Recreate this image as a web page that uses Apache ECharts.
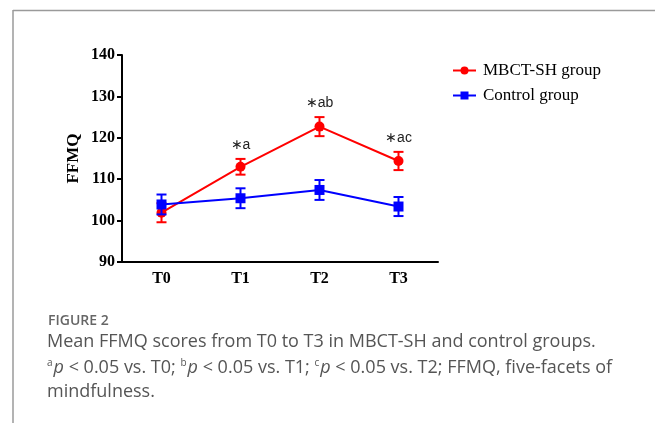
<!DOCTYPE html>
<html>
<head>
<meta charset="utf-8">
<script src="https://cdn.jsdelivr.net/npm/echarts@6/dist/echarts.min.js"></script>
<style>
html,body{margin:0;padding:0;background:#fff;}
#chart{width:655px;height:423px;}
</style>
</head>
<body>
<div id="chart"></div>
<script>
var categories = ['T0', 'T1', 'T2', 'T3'];
var mbctMean = [101.9, 113.0, 122.7, 114.4];
var mbctErr = [2.3, 1.9, 2.3, 2.2];
var controlMean = [103.9, 105.4, 107.4, 103.4];
var controlErr = [2.4, 2.4, 2.4, 2.3];
var annotations = ['', '\u2217a', '\u2217ab', '\u2217ac'];
var yTicks = [90, 100, 110, 120, 130, 140];

var RED = '#ff0000';
var BLUE = '#0000ff';
var serif = '"Liberation Serif", "Times New Roman", serif';
var sans = '"Liberation Sans", Arial, sans-serif';

function errData(mean, err, ann) {
  return mean.map(function (m, i) {
    return [i, m - err[i], m + err[i], ann ? ann[i] : ''];
  });
}

function errRender(color) {
  return function (params, api) {
    var x = api.value(0);
    var lo = api.coord([x, api.value(1)]);
    var hi = api.coord([x, api.value(2)]);
    var w = 5;
    var style = { stroke: color, lineWidth: 2, fill: null };
    var children = [
      { type: 'line', shape: { x1: lo[0], y1: lo[1], x2: hi[0], y2: hi[1] }, style: style },
      { type: 'line', shape: { x1: lo[0] - w, y1: lo[1], x2: lo[0] + w, y2: lo[1] }, style: style },
      { type: 'line', shape: { x1: hi[0] - w, y1: hi[1], x2: hi[0] + w, y2: hi[1] }, style: style }
    ];
    var t = api.value(3);
    if (t) {
      children.push({
        type: 'text',
        style: {
          text: t, x: hi[0], y: hi[1] - 14, align: 'center', verticalAlign: 'middle',
          font: '14px ' + sans, fill: '#222'
        }
      });
    }
    return { type: 'group', children: children };
  };
}

var chart = echarts.init(document.getElementById('chart'), null, { renderer: 'canvas' });
chart.setOption({
  animation: false,
  backgroundColor: '#fff',
  grid: { left: 122, right: 217, top: 55, bottom: 161, containLabel: false },
  legend: {
    orient: 'vertical',
    left: 447,
    top: 57,
    itemWidth: 23,
    itemHeight: 10,
    itemGap: 8,
    textStyle: { fontFamily: serif, fontSize: 17, color: '#000', padding: [0, 0, 0, 2] },
    data: ['MBCT-SH group', 'Control group']
  },
  xAxis: {
    type: 'category',
    data: categories,
    boundaryGap: true,
    axisLine: { lineStyle: { color: '#000', width: 2 } },
    axisTick: { alignWithLabel: true, length: 5, lineStyle: { color: '#000', width: 2 } },
    axisLabel: { fontFamily: serif, fontWeight: 'bold', fontSize: 16, color: '#000', margin: 9 }
  },
  yAxis: {
    type: 'value',
    min: 90,
    max: 140,
    interval: 10,
    name: 'FFMQ',
    nameLocation: 'middle',
    nameGap: 40,
    nameTextStyle: { fontFamily: serif, fontWeight: 'bold', fontSize: 17, color: '#000' },
    splitLine: { show: false },
    axisLine: { show: true, lineStyle: { color: '#000', width: 2 } },
    axisTick: { show: true, length: 5, lineStyle: { color: '#000', width: 2 } },
    axisLabel: { fontFamily: serif, fontWeight: 'bold', fontSize: 16, color: '#000', margin: 7 }
  },
  series: [
    {
      type: 'custom', name: 'mbctErr', renderItem: errRender(RED),
      data: errData(mbctMean, mbctErr, annotations), z: 2, silent: true
    },
    {
      type: 'line', name: 'MBCT-SH group', data: mbctMean,
      symbol: 'circle', symbolSize: 10,
      lineStyle: { color: RED, width: 2 }, itemStyle: { color: RED }, z: 3
    },
    {
      type: 'custom', name: 'controlErr', renderItem: errRender(BLUE),
      data: errData(controlMean, controlErr, null), z: 4, silent: true
    },
    {
      type: 'line', name: 'Control group', data: controlMean,
      symbol: 'rect', symbolSize: 10,
      lineStyle: { color: BLUE, width: 2 }, itemStyle: { color: BLUE }, z: 5
    }
  ],
  graphic: [
    { type: 'line', shape: { x1: 13, y1: 10.5, x2: 655, y2: 10.5 }, style: { stroke: '#9a9a9a', lineWidth: 1.5 } },
    { type: 'line', shape: { x1: 13, y1: 10, x2: 13, y2: 423 }, style: { stroke: '#9a9a9a', lineWidth: 1.5 } },
    {
      type: 'text', left: 48, top: 314,
      style: { text: 'FIGURE 2', font: '600 14px "Open Sans", sans-serif', fill: '#666' }
    },
    {
      type: 'text', left: 47, top: 333,
      style: { text: 'Mean FFMQ scores from T0 to T3 in MBCT-SH and control groups.', font: '18px "Open Sans", sans-serif', fill: '#555' }
    },
    {
      type: 'text', left: 47, top: 358,
      style: {
        text: '{s|a}{i|p} < 0.05 vs. T0; {s|b}{i|p} < 0.05 vs. T1; {s|c}{i|p} < 0.05 vs. T2; FFMQ, five-facets of',
        font: '18px "Open Sans", sans-serif', fill: '#555',
        rich: {
          s: { fontSize: 10, fontFamily: 'Open Sans', fill: '#555', verticalAlign: 'top', padding: [0, 1, 9, 0] },
          i: { fontSize: 18, fontFamily: 'Open Sans', fontStyle: 'italic', fill: '#555' }
        }
      }
    },
    {
      type: 'text', left: 47, top: 383,
      style: { text: 'mindfulness.', font: '18px "Open Sans", sans-serif', fill: '#555' }
    }
  ]
});
</script>
</body>
</html>
